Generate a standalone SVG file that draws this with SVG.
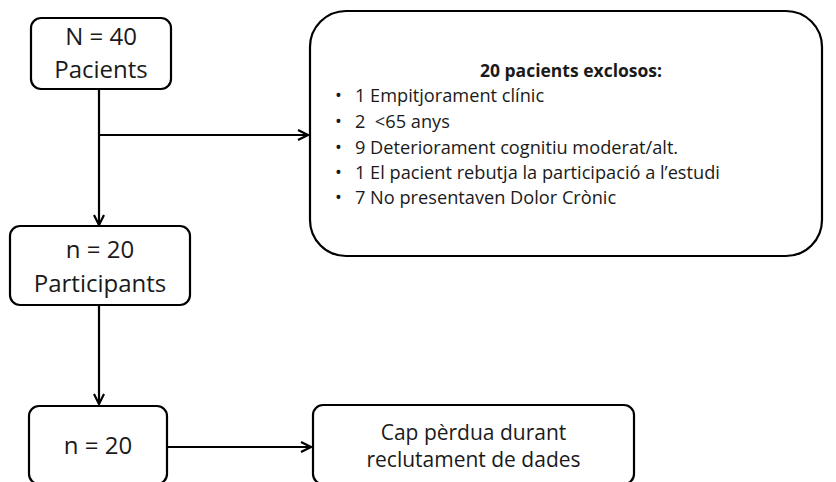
<svg xmlns="http://www.w3.org/2000/svg" width="836" height="482" viewBox="0 0 836 482">
<style>
.box{fill:#fff;stroke:#000;stroke-width:2.2}
.t{font-family:"Open Sans","Liberation Sans",sans-serif;fill:#1a1a1a}
.big{font-size:24px;text-anchor:middle}
.sm{font-size:18.2px}
.ttl{font-size:17.5px;font-weight:bold;text-anchor:middle}
.mid{font-size:21px;text-anchor:middle}
.conn{fill:none;stroke:#000;stroke-width:2.2}
</style>
<defs>
<marker id="ah" viewBox="0 0 12 12" refX="11" refY="6" markerWidth="12" markerHeight="12" markerUnits="userSpaceOnUse" orient="auto">
<path d="M1,1 L11,6 L1,11" fill="none" stroke="#000" stroke-width="2.2"/>
</marker>
</defs>
<g id="connectors">
<path class="conn" d="M99,89 V225" marker-end="url(#ah)"/>
<path class="conn" d="M99,135 H308" marker-end="url(#ah)"/>
<path class="conn" d="M99,305 V404" marker-end="url(#ah)"/>
<path class="conn" d="M167,447 H311" marker-end="url(#ah)"/>
</g>
<g id="node-pacients">
<rect class="box" x="31" y="18" width="140" height="71" rx="10"/>
<text class="t big" x="101" y="45">N = 40</text>
<text class="t big" x="101" y="78">Pacients</text>
</g>
<g id="node-exclosos">
<rect class="box" x="310" y="11" width="512" height="245" rx="36"/>
<text class="t ttl" x="571" y="77">20 pacients exclosos:</text>
<g class="t sm">
<text x="335" y="102">•</text><text x="355" y="102">1 Empitjorament clínic</text>
<text x="335" y="128">•</text><text x="355" y="128">2&#160; &lt;65 anys</text>
<text x="335" y="154">•</text><text x="355" y="154">9 Deteriorament cognitiu moderat/alt.</text>
<text x="335" y="179">•</text><text x="355" y="179">1 El pacient rebutja la participació a l’estudi</text>
<text x="335" y="204">•</text><text x="355" y="204">7 No presentaven Dolor Crònic</text>
</g>
</g>
<g id="node-participants">
<rect class="box" x="10" y="226" width="180" height="79" rx="10"/>
<text class="t big" x="100" y="258">n = 20</text>
<text class="t big" x="100" y="292">Participants</text>
</g>
<g id="node-n20">
<rect class="box" x="29" y="406" width="138" height="78" rx="10"/>
<text class="t big" x="98" y="454">n = 20</text>
</g>
<g id="node-cap">
<rect class="box" x="313" y="405" width="321" height="79" rx="10"/>
<text class="t mid" x="473.5" y="440">Cap pèrdua durant</text>
<text class="t mid" x="473.5" y="467">reclutament de dades</text>
</g>
</svg>
